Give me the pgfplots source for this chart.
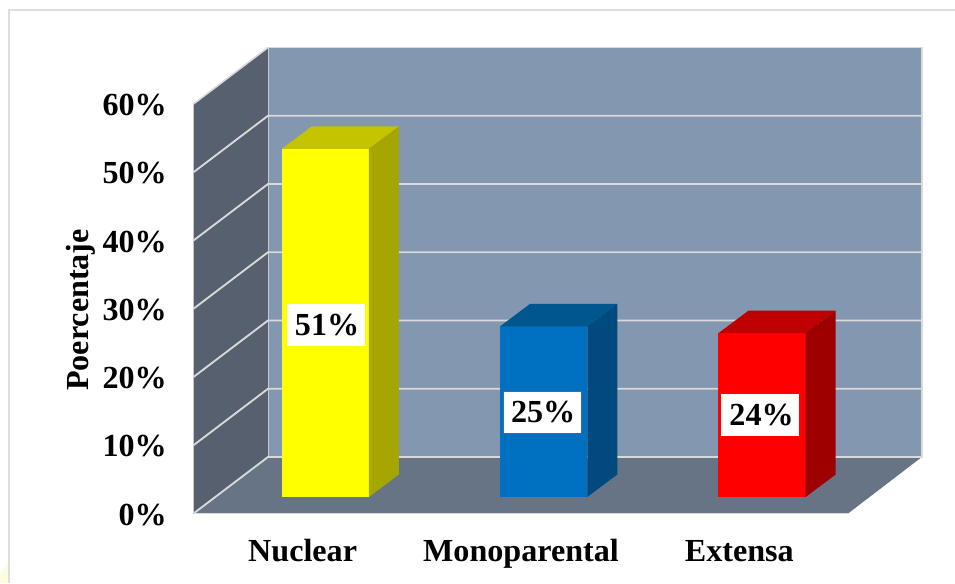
\documentclass[border=0pt]{standalone}
\usepackage{fontspec}
\setmainfont{Liberation Serif}
\usepackage{pgfplots}
\pgfplotsset{compat=1.18}
\definecolor{backwall}{HTML}{8497B0}
\definecolor{leftwall}{HTML}{56606F}
\definecolor{floorc}{HTML}{667485}
\definecolor{gridc}{HTML}{D9D9D9}
\definecolor{framec}{HTML}{DEDEDE}
\definecolor{yfront}{HTML}{FFFF00}
\definecolor{ytop}{HTML}{C4C400}
\definecolor{yside}{HTML}{A6A600}
\definecolor{bfront}{HTML}{0070C0}
\definecolor{btop}{HTML}{00568F}
\definecolor{bside}{HTML}{004A80}
\definecolor{rfront}{HTML}{FF0000}
\definecolor{rtop}{HTML}{BF0000}
\definecolor{rside}{HTML}{9E0000}
\definecolor{boxb}{HTML}{3A66C4}
\definecolor{glow}{HTML}{FFFBE0}
\newcommand{\chartfont}{\fontsize{24.1}{26}\selectfont\bfseries}
\pgfplotsset{
  common/.style={
    scale only axis, width=490.875pt, height=307.125pt,
    xmin=-0.6036, xmax=2.3938, ymin=0, ymax=60,
    clip=false, anchor=south west,
    axis line style={draw=none},
    major tick length=0pt,
    tick label style={font=\chartfont},
  },
}
\tikzset{
  lab/.style={fill=white, inner sep=0pt, minimum width=58.5pt, minimum height=31.5pt,
    font=\chartfont, text=black},
}
\begin{document}
\begin{tikzpicture}
\path[use as bounding box] (0,0) rectangle (716.25pt,437.25pt);
\fill[glow] (0,0) -- (7pt,0) -- (7pt,17pt) -- (0,7pt) -- cycle;
\draw[framec, line width=1.5pt] (7.1pt,0) -- (7.1pt,429.75pt) -- (716.25pt,429.75pt);
% walls, floor and value axis: front plane 0..60 %
\begin{axis}[common, at={(145.125pt,52.125pt)},
  xtick=\empty, ytick={0,10,20,30,40,50,60},
  ytick pos=left,
  yticklabel={\pgfmathprintnumber{\tick}\%},
  /pgf/number format/assume math mode=true,
  yticklabel style={inner sep=0pt, anchor=east, xshift=-19.8pt, yshift=-0.8pt},
  ylabel={Poercentaje},
  every axis y label/.style={at={(axis description cs:-0.172,0.497)},rotate=90,anchor=center,font=\chartfont},
]
\addplot[fill=backwall, draw=gridc, line width=1pt] coordinates {(-0.2624,8.28)(2.7321,8.28)(2.7321,68.28)(-0.2624,68.28)} -- cycle;
\addplot[fill=leftwall, draw=none] coordinates {(-0.6036,0)(-0.2624,8.28)(-0.2624,68.28)(-0.6036,60)} -- cycle;
\addplot[fill=floorc, draw=none] coordinates {(-0.6036,0)(2.3938,0)(2.7321,8.28)(-0.2624,8.28)} -- cycle;
\addplot[gridc, line width=1.2pt] coordinates {(-0.6036,60)(-0.2624,68.28)};
\addplot[gridc, line width=1.4pt] coordinates {(-0.6036,50)(-0.2624,58.28)(2.7321,58.28)};
\addplot[gridc, line width=1.4pt] coordinates {(-0.6036,40)(-0.2624,48.28)(2.7321,48.28)};
\addplot[gridc, line width=1.4pt] coordinates {(-0.6036,30)(-0.2624,38.28)(2.7321,38.28)};
\addplot[gridc, line width=1.4pt] coordinates {(-0.6036,20)(-0.2624,28.28)(2.7321,28.28)};
\addplot[gridc, line width=1.4pt] coordinates {(-0.6036,10)(-0.2624,18.28)(2.7321,18.28)};
\addplot[gridc, line width=1.4pt] coordinates {(-0.6036,0)(-0.2624,8.28)(2.7321,8.28)};
\addplot[gridc, line width=1.1pt] coordinates {(-0.6036,0)(2.3938,0)};
\end{axis}
% bars, baseline raised to the middle of the floor
\begin{axis}[common, at={(145.125pt,64.5pt)},
  xtick={0,1,2}, xticklabels={Nuclear,Monoparental,Extensa},
  ytick=\empty, xtick pos=bottom,
  xticklabel style={anchor=base, xshift=-17pt, yshift=-48pt, inner sep=0pt},
]
\addplot[ybar, bar width=65.4pt, bar shift=0pt, fill=yfront, draw=none] coordinates {(0,51)};
\addplot[fill=ytop, draw=none] coordinates {(-0.1997,51)(0.1997,51)(0.3371,54.3)(-0.0623,54.3)} -- cycle;
\addplot[fill=yside, draw=none] coordinates {(0.1997,0)(0.3371,3.3)(0.3371,54.3)(0.1997,51)} -- cycle;
\addplot[ybar, bar width=65.4pt, bar shift=0pt, fill=bfront, draw=none] coordinates {(1,25)};
\addplot[fill=btop, draw=none] coordinates {(0.8003,25)(1.1997,25)(1.3371,28.3)(0.9377,28.3)} -- cycle;
\addplot[fill=bside, draw=none] coordinates {(1.1997,0)(1.3371,3.3)(1.3371,28.3)(1.1997,25)} -- cycle;
\addplot[ybar, bar width=65.4pt, bar shift=0pt, fill=rfront, draw=none] coordinates {(2,24)};
\addplot[fill=rtop, draw=none] coordinates {(1.8003,24)(2.1997,24)(2.3371,27.3)(1.9377,27.3)} -- cycle;
\addplot[fill=rside, draw=none] coordinates {(2.1997,0)(2.3371,3.3)(2.3371,27.3)(2.1997,24)} -- cycle;
\node[lab] at (axis cs:0.002,25.2) {\kern2pt 51\%};
\node[lab, draw=boxb, line width=1.1pt] at (axis cs:0.995,12.4) {\kern1pt 25\%};
\node[lab] at (axis cs:1.992,12) {\kern2pt 24\%};
\end{axis}
\end{tikzpicture}
\end{document}
